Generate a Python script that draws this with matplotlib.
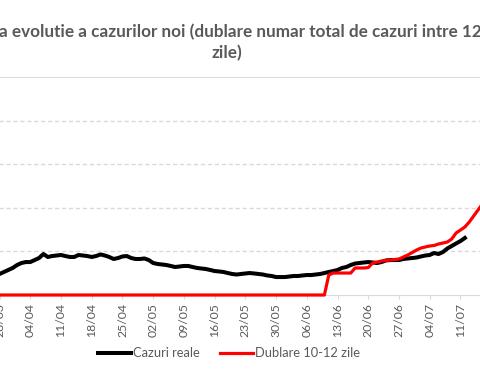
import matplotlib
matplotlib.use("Agg")
import matplotlib.pyplot as plt
import pandas as pd

# Data
black_start = "2020-03-23"
cazuri_reale = [150, 165, 185, 200, 218,
                241, 264, 287, 310, 344, 367, 378, 378, 401, 424,
                470, 436, 447, 453, 459, 447, 436, 436, 459, 453,
                447, 436, 447, 465, 453, 436, 413, 424, 442, 447,
                424, 413, 413, 419, 401, 367, 356, 350, 344, 333,
                321, 327, 333, 333, 321, 310, 304, 298, 287, 275,
                270, 264, 252, 241, 235, 241, 247, 252, 247, 241,
                235, 224, 218, 206, 206, 206, 212, 218, 218, 224,
                229, 229, 235, 241, 252, 264, 275, 287, 310, 321,
                344, 361, 367, 373, 378, 373, 367, 378, 396, 401,
                401, 401, 413, 419, 424, 430, 442, 453, 459, 482,
                470, 493, 533, 562, 591, 619, 654]
dublare = [0] * 80 + [229, 252, 252, 252, 252, 252, 310, 310, 310, 315,
                      367, 378, 390, 396, 401, 407, 413, 436, 459, 487,
                      516, 539, 551, 562, 568, 585, 596, 608, 642, 711,
                      745, 780, 837, 906, 975, 1044, 1135, 1227]
tick_labels = ["28/03", "04/04", "11/04", "18/04", "25/04", "02/05", "09/05",
               "16/05", "23/05", "30/05", "06/06", "13/06", "20/06", "27/06",
               "04/07", "11/07"]

dates_black = pd.date_range(black_start, periods=len(cazuri_reale), freq="D")
dates_red = pd.date_range(black_start, periods=len(dublare), freq="D")
tick_dates = pd.date_range("2020-03-28", periods=len(tick_labels), freq="7D")

gray = "#595959"
grid = "#d9d9d9"
plt.rcParams["font.family"] = ["Lato", "DejaVu Sans"]

fig = plt.figure(figsize=(4.8, 3.81), dpi=100)
# plot area runs past the picture edges (the reference is a crop)
ax = fig.add_axes([-0.1382, 0.2257, 1.1890, 0.5722])

ax.plot(dates_black, cazuri_reale, color="black", lw=2.9,
        solid_joinstyle="round", label="Cazuri reale", zorder=3)
ax.plot(dates_red, dublare, color="#ff0000", lw=2.3, clip_on=False,
        label="Dublare 10-12 zile", zorder=4)

ax.set_xlim(pd.Timestamp("2020-03-13"), pd.Timestamp("2020-07-21"))
ax.set_ylim(0, 2500)
for v in [500, 1000, 1500, 2000]:
    ax.axhline(v, color=grid, lw=1, ls=(0, (3, 2)), zorder=1)
ax.axhline(2500, color=grid, lw=1.4, zorder=1)

ax.set_xticks(tick_dates)
ax.set_xticklabels(tick_labels, rotation=90, color=gray, fontsize=8.8)
ax.tick_params(axis="x", length=3, color=grid, pad=3)
ax.set_yticks([])
for s in ["top", "left", "right"]:
    ax.spines[s].set_visible(False)
ax.spines["bottom"].set_color(grid)

fig.text(-0.002, 0.903, "a evolutie a cazurilor noi (dublare numar total de cazuri intre 12",
         ha="left", va="baseline", fontsize=12.3, fontweight="bold", color=gray)
fig.text(0.473, 0.848, "zile)", ha="center", va="baseline", fontsize=12.3,
         fontweight="bold", color=gray)

fig.legend(loc="center", bbox_to_anchor=(0.477, 0.073), ncol=2, frameon=False,
           fontsize=9.3, labelcolor=gray, handlelength=2.55, handletextpad=0.15,
           columnspacing=1.55)

fig.savefig("out.png", dpi=100)
